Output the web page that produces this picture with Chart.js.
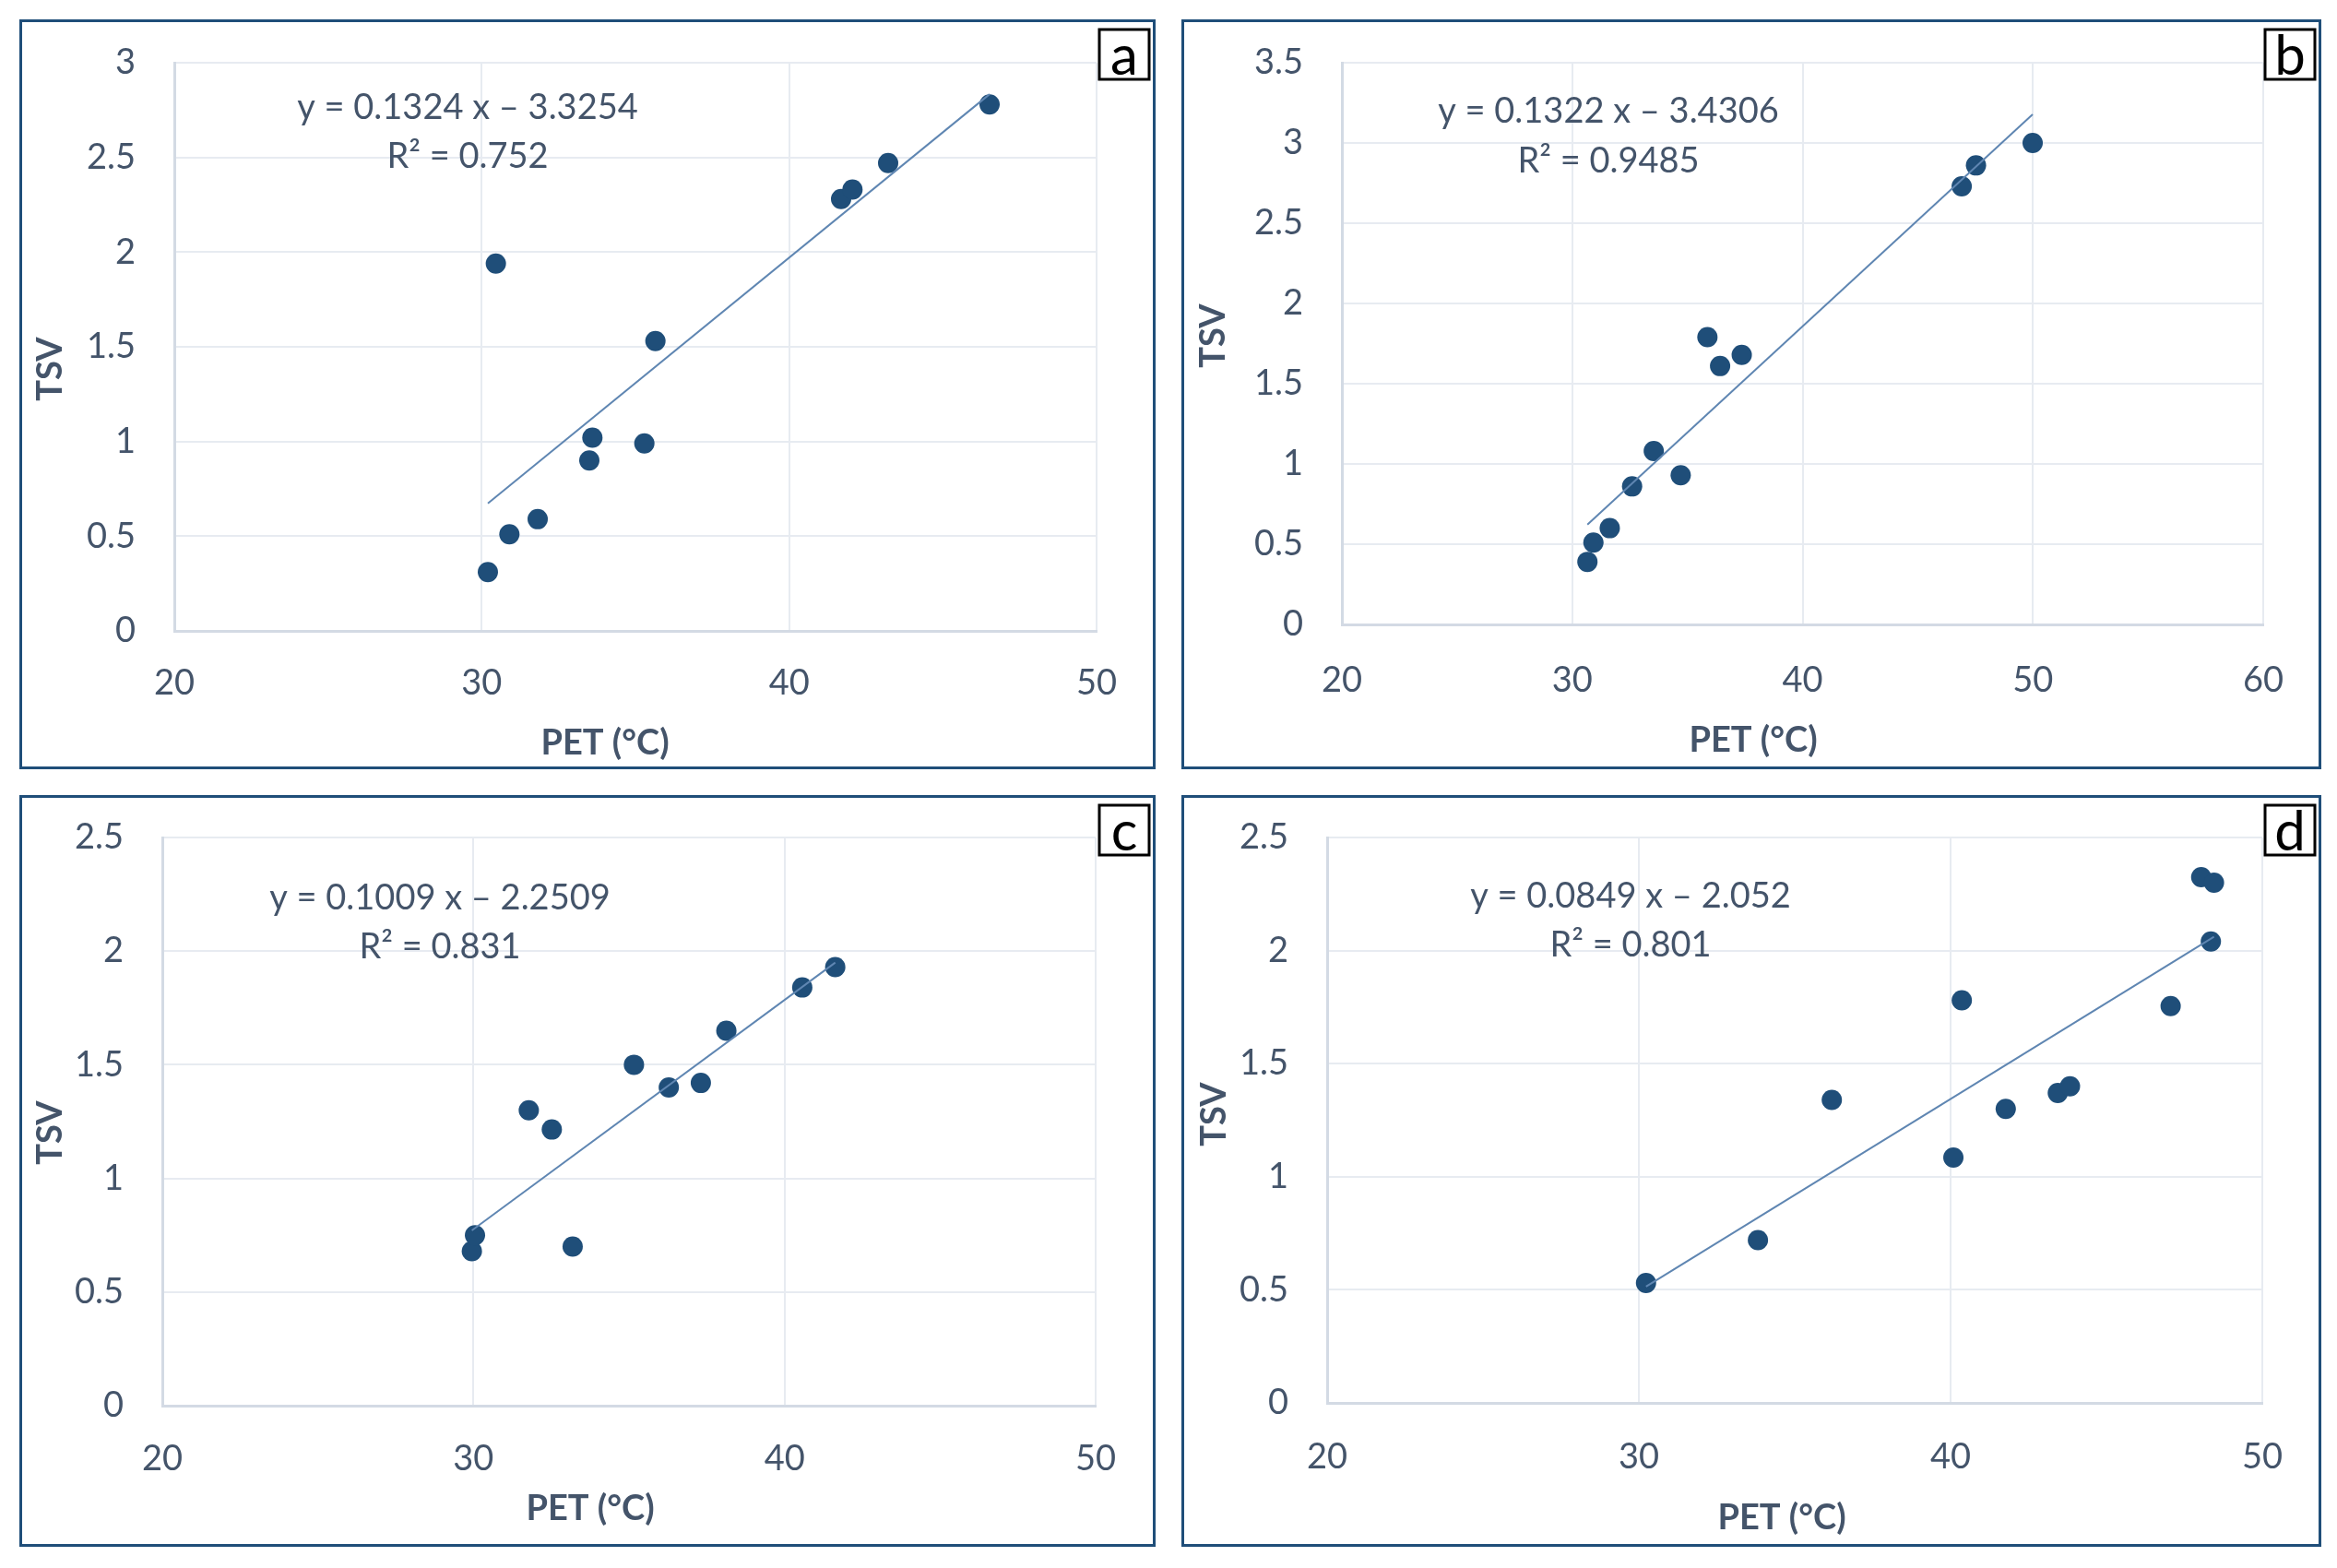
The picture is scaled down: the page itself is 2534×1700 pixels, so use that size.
<!DOCTYPE html>
<html>
<head>
<meta charset="utf-8">
<script src="https://cdn.jsdelivr.net/npm/chart.js@4.4.1/dist/chart.umd.min.js"></script>
<style>
html, body { margin: 0; padding: 0; background: #ffffff; }
body { width: 2534px; height: 1700px; position: relative; overflow: hidden; }
.panel { position: absolute; border: 3px solid #1f4e79; box-sizing: border-box; background: #ffffff; }
.panel canvas { position: absolute; left: 0; top: 0; }
</style>
</head>
<body>
<div class="panel" id="pa"><canvas id="ca"></canvas></div>
<div class="panel" id="pb"><canvas id="cb"></canvas></div>
<div class="panel" id="pc"><canvas id="cc"></canvas></div>
<div class="panel" id="pd"><canvas id="cd"></canvas></div>
<script>
// ---------------- DATA ----------------
const panelLetters = ['a', 'b', 'c', 'd'];

const petA = [30.20, 30.90, 30.46, 31.82, 33.50, 33.60, 35.29, 35.65, 41.69, 42.06, 43.22, 46.52];
const tsvA = [0.31, 0.51, 1.94, 0.59, 0.90, 1.02, 0.99, 1.53, 2.28, 2.33, 2.47, 2.78];

const petB = [30.66, 30.92, 31.63, 32.60, 33.54, 34.71, 35.87, 36.42, 37.36, 46.91, 47.53, 49.99];
const tsvB = [0.39, 0.51, 0.60, 0.86, 1.08, 0.93, 1.79, 1.61, 1.68, 2.73, 2.86, 3.00];

const petC = [29.95, 30.05, 31.78, 32.52, 33.19, 35.16, 36.28, 37.31, 38.13, 40.57, 41.63];
const tsvC = [0.68, 0.75, 1.30, 1.215, 0.70, 1.50, 1.40, 1.42, 1.65, 1.84, 1.93];

const petD = [30.23, 33.82, 36.19, 40.09, 40.36, 41.77, 43.44, 43.83, 47.06, 48.04, 48.45, 48.35];
const tsvD = [0.53, 0.72, 1.34, 1.085, 1.78, 1.30, 1.37, 1.40, 1.755, 2.325, 2.30, 2.04];

// trendline equations as printed on the chart
const slopes = [0.1324, 0.1322, 0.1009, 0.0849];
const intercepts = [-3.3254, -3.4306, -2.2509, -2.052];
const slopeLabels = ['0.1324', '0.1322', '0.1009', '0.0849'];
const interceptLabels = ['3.3254', '3.4306', '2.2509', '2.052'];
const r2Labels = ['0.752', '0.9485', '0.831', '0.801'];

// axis ranges / ticks
const xMins = [20, 20, 20, 20];
const xMaxs = [50, 60, 50, 50];
const xSteps = [10, 10, 10, 10];
const yMins = [0, 0, 0, 0];
const yMaxs = [3, 3.5, 2.5, 2.5];
const ySteps = [0.5, 0.5, 0.5, 0.5];
const xTitle = 'PET (°C)';
const yTitle = 'TSV';

const petSets = [petA, petB, petC, petD];
const tsvSets = [tsvA, tsvB, tsvC, tsvD];

// ---------------- LAYOUT (page pixels) ----------------
const layout = [
  { box: [21, 21, 1232, 813],   plot: [189, 68, 1189, 684],    eq: [507, 115, 168],   xTickPad: 34, xT: [656, 806],   yT: [55, 400] },
  { box: [1281, 21, 1236, 813], plot: [1455, 68, 2454, 677],   eq: [1744, 119, 173],  xTickPad: 38, xT: [1901, 803],  yT: [1316, 364] },
  { box: [21, 862, 1232, 815],  plot: [176, 908, 1188, 1524],  eq: [477, 972, 1025],  xTickPad: 35, xT: [640, 1636],  yT: [55, 1228] },
  { box: [1281, 862, 1236, 815], plot: [1439, 908, 2453, 1521], eq: [1768, 970, 1023], xTickPad: 36, xT: [1932, 1646], yT: [1317, 1208] }
];
const BORDER = 3;
const TEXT = '#44546A';
const FONT = 'Lato, "Open Sans", "DejaVu Sans", sans-serif';

Chart.defaults.font.family = FONT;

function fmtTick(v) { return String(Math.round(v * 100) / 100); }

function buildChart(i) {
  const L = layout[i];
  const letter = panelLetters[i];
  const div = document.getElementById('p' + letter);
  div.style.left = L.box[0] + 'px';
  div.style.top = L.box[1] + 'px';
  div.style.width = L.box[2] + 'px';
  div.style.height = L.box[3] + 'px';

  const ox = L.box[0] + BORDER, oy = L.box[1] + BORDER;
  const cw = L.box[2] - 2 * BORDER, ch = L.box[3] - 2 * BORDER;
  const canvas = document.getElementById('c' + letter);
  canvas.width = cw; canvas.height = ch;
  canvas.style.width = cw + 'px'; canvas.style.height = ch + 'px';

  const yW = L.plot[0] - ox;
  const padTop = L.plot[1] - oy;
  const padRight = ox + cw - L.plot[2];
  const xH = oy + ch - L.plot[3];

  const pts = petSets[i].map((x, k) => ({ x: x, y: tsvSets[i][k] }));
  const xs = petSets[i];
  const xLo = Math.min.apply(null, xs), xHi = Math.max.apply(null, xs);
  const trend = [
    { x: xLo, y: slopes[i] * xLo + intercepts[i] },
    { x: xHi, y: slopes[i] * xHi + intercepts[i] }
  ];

  const annot = {
    id: 'annot' + letter,
    afterDraw(chart) {
      const ctx = chart.ctx;
      ctx.save();
      // trendline equation
      ctx.fillStyle = TEXT;
      ctx.font = '38px ' + FONT;
      ctx.textAlign = 'center';
      ctx.textBaseline = 'alphabetic';
      ctx.fillText('y = ' + slopeLabels[i] + ' x \u2013 ' + interceptLabels[i], L.eq[0] - ox, L.eq[1] - oy + 13.5);
      ctx.fillText('R\u00B2 = ' + r2Labels[i], L.eq[0] - ox, L.eq[2] - oy + 13.5);
      // axis titles
      ctx.font = 'bold 38px ' + FONT;
      ctx.textBaseline = 'middle';
      ctx.fillText(xTitle, L.xT[0] - ox, L.xT[1] - oy);
      ctx.save();
      ctx.translate(L.yT[0] - ox, L.yT[1] - oy);
      ctx.rotate(-Math.PI / 2);
      ctx.fillText(yTitle, 0, 0);
      ctx.restore();
      // panel letter box
      const bw = 54, bh = 54;
      const bx = (L.box[0] + L.box[2] - 7 - bw) - ox;
      const by = (L.box[1] + 11) - oy;
      ctx.fillStyle = '#ffffff';
      ctx.fillRect(bx, by, bw, bh);
      ctx.lineWidth = 3;
      ctx.strokeStyle = '#000000';
      ctx.strokeRect(bx, by, bw, bh);
      ctx.fillStyle = '#000000';
      ctx.font = '60px ' + FONT;
      ctx.textAlign = 'center';
      ctx.textBaseline = 'alphabetic';
      ctx.fillText(letter, bx + bw / 2, by + bh - 5);
      ctx.restore();
    }
  };

  return new Chart(canvas, {
    type: 'scatter',
    data: {
      datasets: [
        {
          type: 'line',
          data: trend,
          borderColor: '#5f86b2',
          borderWidth: 2,
          pointRadius: 0,
          fill: false,
          tension: 0,
          order: 0
        },
        {
          type: 'scatter',
          data: pts,
          backgroundColor: '#1f4e79',
          borderColor: '#1f4e79',
          borderWidth: 0,
          pointRadius: 11,
          pointHoverRadius: 11,
          order: 1
        }
      ]
    },
    options: {
      responsive: false,
      animation: false,
      devicePixelRatio: 1,
      layout: { padding: { top: padTop, right: padRight, left: 0, bottom: 0 }, autoPadding: false },
      plugins: { legend: { display: false }, tooltip: { enabled: false } },
      scales: {
        x: {
          type: 'linear',
          position: 'bottom',
          min: xMins[i], max: xMaxs[i],
          ticks: { stepSize: xSteps[i], color: TEXT, font: { size: 38 }, padding: L.xTickPad, maxRotation: 0, callback: fmtTick },
          grid: { color: '#e7ebf1', lineWidth: 2, drawTicks: false },
          border: { display: true, color: '#d3dae4', width: 3 },
          title: { display: false, text: xTitle },
          afterFit(s) { s.height = xH; s.paddingLeft = 0; s.paddingRight = 0; }
        },
        y: {
          type: 'linear',
          position: 'left',
          min: yMins[i], max: yMaxs[i],
          ticks: { stepSize: ySteps[i], color: TEXT, font: { size: 38 }, padding: 42, callback: fmtTick },
          grid: { color: '#e7ebf1', lineWidth: 2, drawTicks: false },
          border: { display: true, color: '#d3dae4', width: 3 },
          title: { display: false, text: yTitle },
          afterFit(s) { s.width = yW; s.paddingTop = 0; s.paddingBottom = 0; }
        }
      }
    },
    plugins: [annot]
  });
}

function start() { for (let i = 0; i < 4; i++) buildChart(i); }
if (document.fonts && document.fonts.load) {
  Promise.all([document.fonts.load('38px Lato'), document.fonts.load('bold 38px Lato')]).then(start, start);
} else { start(); }
</script>
</body>
</html>
